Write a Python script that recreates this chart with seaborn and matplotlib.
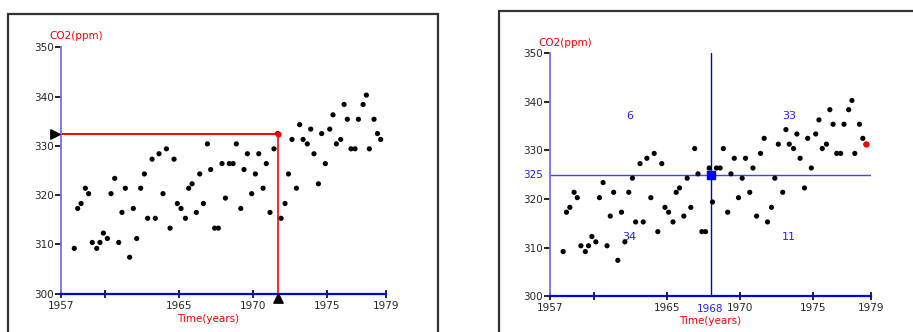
import matplotlib
matplotlib.use("Agg")
import matplotlib.pyplot as plt
from matplotlib.patches import Rectangle
import seaborn as sns
import pandas as pd

sns.set_theme(style="white")
plt.rcParams['font.family'] = ['DejaVu Sans']

# ---- data ----
years = [1957.90, 1958.13, 1958.36, 1958.65, 1958.87, 1959.12, 1959.42, 1959.64, 1959.87, 1960.14,
         1960.39, 1960.64, 1960.91, 1961.13, 1961.36, 1961.65, 1961.90, 1962.13, 1962.40, 1962.65,
         1962.87, 1963.17, 1963.39, 1963.64, 1963.91, 1964.14, 1964.39, 1964.66, 1964.88, 1965.13,
         1965.43, 1965.65, 1965.88, 1966.17, 1966.40, 1966.65, 1966.92, 1967.14, 1967.41, 1967.66,
         1967.91, 1968.14, 1968.41, 1968.66, 1968.88, 1969.18, 1969.40, 1969.63, 1969.92, 1970.17,
         1970.40, 1970.69, 1970.91, 1971.16, 1971.43, 1971.68, 1971.91, 1972.18, 1972.41, 1972.65,
         1972.95, 1973.17, 1973.40, 1973.69, 1973.92, 1974.14, 1974.44, 1974.66, 1974.91, 1975.21,
         1975.43, 1975.66, 1975.95, 1976.18, 1976.40, 1976.65, 1976.92, 1977.15, 1977.47, 1977.69,
         1977.89, 1978.21, 1978.44, 1978.66]
co2 = [309.2, 317.3, 318.3, 321.4, 320.3, 310.4, 309.2, 310.4, 312.3, 311.2,
       320.3, 323.4, 310.4, 316.5, 321.4, 307.4, 317.3, 311.2, 321.4, 324.3,
       315.3, 327.3, 315.3, 328.4, 320.3, 329.4, 313.3, 327.3, 318.3, 317.3,
       315.3, 321.4, 322.3, 316.5, 324.3, 318.3, 330.4, 325.2, 313.3, 313.3,
       326.4, 319.4, 326.4, 326.4, 330.4, 317.3, 325.2, 328.4, 320.3, 324.3,
       328.4, 321.4, 326.4, 316.5, 329.4, 332.5, 315.3, 318.3, 324.3, 331.3,
       321.4, 334.3, 331.3, 330.4, 333.4, 328.4, 322.3, 332.5, 326.4, 333.4,
       336.3, 330.4, 331.3, 338.4, 335.4, 329.4, 329.4, 335.4, 338.4, 340.3,
       329.4, 335.4, 332.5, 331.3]

x_ticks = [1957, 1960, 1965, 1970, 1975, 1979]
x_ticklabels = ["1957", "", "1965", "1970", "1975", "1979"]
y_ticks = [300, 310, 320, 330, 340, 350]

left_sel = (1971.68, 332.5)      # selected point, left panel
right_sel = (1978.66, 331.3)     # highlighted point, right panel
split = (1968, 325)              # quadrant split, right panel
quad_labels = ["6", "33", "34", "11"]
quad_pos = [(1962.44, 337.0), (1973.38, 337.0), (1962.44, 312.1), (1973.38, 312.1)]

df = pd.DataFrame({"Time": years, "CO2": co2})

W, H = 913, 332
fig = plt.figure(figsize=(W / 100, H / 100), dpi=100)
fig.patch.set_facecolor("white")

def px_axes(x0, x1, ytop, ybot):
    return fig.add_axes([x0 / W, (H - ybot) / H, (x1 - x0) / W, (ybot - ytop) / H])

# panel frames
fig.add_artist(Rectangle((8 / W, -0.1), (438 - 8) / W, (H - 14) / H + 0.1,
                         transform=fig.transFigure, fill=False, ec="#333333", lw=1.6))
fig.add_artist(Rectangle((499 / W, -0.1), (940 - 499) / W, (H - 11) / H + 0.1,
                         transform=fig.transFigure, fill=False, ec="#333333", lw=1.6))

FS = 7.5
axL = px_axes(61, 385.7, 47.3, 293.7)
axR = px_axes(550, 871, 53.3, 296.3)

for ax in (axL, axR):
    ax.set_facecolor("none")
    sns.scatterplot(data=df, x="Time", y="CO2", ax=ax, color="black", s=14,
                    edgecolor="none", legend=False, zorder=3)
    ax.set_xlim(1957, 1979)
    ax.set_ylim(300, 350)
    ax.set_xlabel("")
    ax.set_ylabel("")
    for s in ("top", "right"):
        ax.spines[s].set_visible(False)
    ax.spines["left"].set_color("#7070ff")
    ax.spines["left"].set_linewidth(1.3)
    ax.spines["bottom"].set_color("#0000ee")
    ax.spines["bottom"].set_linewidth(1.6)
    ax.set_xticks(x_ticks)
    ax.set_xticklabels(x_ticklabels)
    ax.set_yticks(y_ticks)
    ax.set_yticklabels([str(v) for v in y_ticks])
    ax.tick_params(axis="x", direction="inout", length=6, width=1.2, color="black",
                   labelsize=FS, pad=2, bottom=True)
    ax.tick_params(axis="y", direction="out", length=4, width=1.2, color="black",
                   labelsize=FS, pad=1, left=True)
    ax.grid(False)

# ---- left panel ----
axL.text(1956.2, 351.2, "CO2(ppm)", color="red", fontsize=FS, ha="left", va="bottom")
axL.text((1957 + 1979) / 2 - 1.0, 295.9, "Time(years)", color="red", fontsize=FS,
         ha="center", va="top")
axL.plot([1957, left_sel[0]], [left_sel[1], left_sel[1]], color="red", lw=1.4, zorder=2)
axL.plot([left_sel[0], left_sel[0]], [300, left_sel[1]], color="red", lw=1.2, zorder=2)
axL.scatter([left_sel[0]], [left_sel[1]], color="red", s=12, zorder=4)
axL.scatter([1957 - 0.38], [left_sel[1]], marker=">", color="black", s=45, clip_on=False, zorder=5)
axL.scatter([left_sel[0]], [299.1], marker="^", color="black", s=45, clip_on=False, zorder=5)

# ---- right panel ----
axR.text(1956.2, 351.0, "CO2(ppm)", color="red", fontsize=FS, ha="left", va="bottom")
axR.text(split[0], 295.9, "Time(years)", color="red", fontsize=FS, ha="center", va="top")
axR.axhline(split[1], color="#4040ff", lw=1.0, zorder=2)
axR.plot([split[0], split[0]], [300, 350], color="#0000ee", lw=1.0, zorder=2)
axR.scatter([split[0]], [split[1]], marker="s", color="#0000ff", s=28, zorder=5)
axR.scatter([right_sel[0]], [right_sel[1]], color="red", s=12, zorder=4)
axR.text(split[0], 298.4, str(split[0]), color="#2020ff", fontsize=FS, ha="center", va="top")
axR.text(1956.55, split[1], str(split[1]), color="#2020ff", fontsize=FS, ha="right", va="center")
for lab, (qx, qy) in zip(quad_labels, quad_pos):
    axR.text(qx, qy, lab, color="#2020ff", fontsize=FS + 0.5, ha="center", va="center")

fig.savefig("out.png", dpi=100, facecolor="white")
